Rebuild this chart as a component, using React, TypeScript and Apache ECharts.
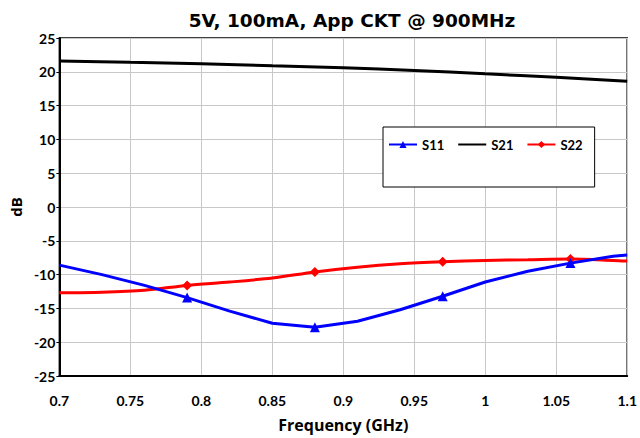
import React, { useEffect, useRef } from "react";
import * as echarts from "echarts";

const freqs = [0.7, 0.73, 0.76, 0.79, 0.82, 0.85, 0.88, 0.91, 0.94, 0.97, 1.0, 1.03, 1.06, 1.09, 1.1];
const s11 = [-8.6, -10.0, -11.6, -13.4, -15.4, -17.2, -17.8, -16.9, -15.2, -13.2, -11.1, -9.5, -8.3, -7.3, -7.1];
const s22 = [-12.7, -12.6, -12.3, -11.6, -11.1, -10.5, -9.6, -8.9, -8.4, -8.1, -7.9, -7.8, -7.7, -7.9, -8.0];
const s21Freqs = [0.7, 0.75, 0.8, 0.85, 0.9, 0.95, 1.0, 1.05, 1.1];
const s21 = [21.6, 21.4, 21.2, 20.9, 20.6, 20.2, 19.7, 19.2, 18.6];
const markerFreqs = [0.79, 0.88, 0.97, 1.06];

const FONT = "Lato";
const WIDE = "Open Sans";

function withMarkers(xs: number[], ys: number[]) {
  return xs.map((x, i) => {
    const on = markerFreqs.some((m) => Math.abs(m - x) < 1e-6);
    return on ? { value: [x, ys[i]] } : { value: [x, ys[i]], symbol: "none" };
  });
}

export default function App() {
  const ref = useRef<HTMLDivElement>(null);
  useEffect(() => {
    if (!ref.current) return;
    const chart = echarts.init(ref.current, null, { renderer: "svg" });
    const labelStyle = { fontFamily: FONT, fontWeight: "bold" as const, fontSize: 14, color: "#000" };
    chart.setOption({
      animation: false,
      backgroundColor: "#fff",
      title: {
        text: "5V, 100mA, App CKT @ 900MHz",
        left: 347,
        top: 6,
        textAlign: "center",
        textStyle: { fontFamily: "DejaVu Sans", fontWeight: "bold", fontSize: 18.5, color: "#000" },
      },
      legend: {
        left: 383,
        top: 127,
        orient: "horizontal",
        backgroundColor: "#fff",
        borderColor: "#000",
        borderWidth: 1,
        padding: [11, 12, 36, 5],
        itemWidth: 28,
        itemHeight: 9,
        itemGap: 13,
        textStyle: { fontFamily: FONT, fontWeight: "bold", fontSize: 13, color: "#000" },
        data: ["S11", { name: "S21", itemStyle: { opacity: 0 } }, "S22"],
      },
      grid: {
        left: 54,
        right: 11,
        top: 38,
        bottom: 61,
        show: true,
        borderColor: "#000",
        borderWidth: 1.5,
      },
      xAxis: {
        type: "value",
        min: 0.7,
        max: 1.1,
        interval: 0.05,
        name: "Frequency (GHz)",
        nameLocation: "middle",
        nameGap: 41,
        nameTextStyle: { fontFamily: WIDE, fontWeight: "bold", fontSize: 16, color: "#000" },
        axisLine: { onZero: false, lineStyle: { color: "#000", width: 2 } },
        axisTick: { show: false },
        axisLabel: {
          ...labelStyle,
          margin: 17,
          formatter: (v: number) => String(+v.toFixed(2)),
        },
        splitLine: { show: true, lineStyle: { color: "#c8c8c8", width: 1 } },
      },
      yAxis: {
        type: "value",
        min: -25,
        max: 25,
        interval: 5,
        name: "dB",
        nameLocation: "middle",
        nameGap: 36,
        nameTextStyle: { fontFamily: WIDE, fontWeight: "bold", fontSize: 15, color: "#000" },
        axisLine: { show: true, onZero: false, lineStyle: { color: "#000", width: 2 } },
        axisTick: { show: true, length: 3, lineStyle: { color: "#000" } },
        axisLabel: { ...labelStyle, margin: 4 },
        splitLine: { show: true, lineStyle: { color: "#c8c8c8", width: 1 } },
      },
      series: [
        {
          name: "S11",
          type: "line",
          data: withMarkers(freqs, s11),
          symbol: "triangle",
          symbolSize: 10,
          showAllSymbol: true,
          lineStyle: { color: "#0000ff", width: 3 },
          itemStyle: { color: "#0000ff" },
          z: 4,
        },
        {
          name: "S21",
          type: "line",
          data: s21Freqs.map((x, i) => [x, s21[i]]),
          symbol: "none",
          smooth: 0.3,
          lineStyle: { color: "#000", width: 3 },
          itemStyle: { color: "#000" },
          z: 3,
        },
        {
          name: "S22",
          type: "line",
          data: withMarkers(freqs, s22),
          symbol: "diamond",
          symbolSize: 10,
          showAllSymbol: true,
          smooth: 0.3,
          lineStyle: { color: "#ff0000", width: 3 },
          itemStyle: { color: "#ff0000" },
          z: 3,
        },
      ],
    });
    return () => chart.dispose();
  }, []);
  return <div ref={ref} style={{ width: 640, height: 438, position: "absolute", left: 0, top: 0 }} />;
}
